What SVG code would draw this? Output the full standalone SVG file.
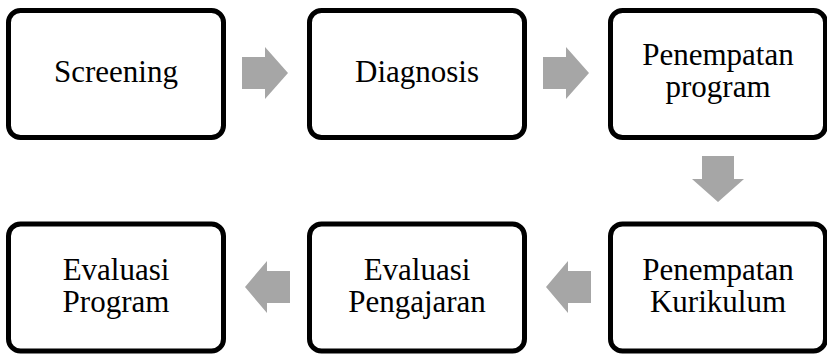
<svg xmlns="http://www.w3.org/2000/svg" width="827" height="356" viewBox="0 0 827 356">
<style>
.box{fill:#fff;stroke:#000;stroke-width:5}
.lbl{font-size:31px;fill:#000;text-anchor:middle}
.arr{fill:#a6a6a6}
</style>
<rect width="827" height="356" fill="#fff"/>
<g id="connectors">
<polygon class="arr" points="242,57 265,57 265,47 288,73 265,99 265,89 242,89"/>
<polygon class="arr" points="543,57 566,57 566,47 589,73 566,99 566,89 543,89"/>
<polygon class="arr" points="702,156 734,156 734,179 744,179 718,202 692,179 702,179"/>
<polygon class="arr" points="591,271 568,271 568,261 546,287 568,313 568,303 591,303"/>
<polygon class="arr" points="290,271 267,271 267,261 245,287 267,313 267,303 290,303"/>
</g>
<g font-family="Liberation Serif, DejaVu Serif, serif">
<g id="n1"><rect class="box" x="8.5" y="10.5" width="215" height="127" rx="12"/><text class="lbl" x="116" y="82">Screening</text></g>
<g id="n2"><rect class="box" x="309.5" y="10.5" width="215" height="127" rx="12"/><text class="lbl" x="417" y="82">Diagnosis</text></g>
<g id="n3"><rect class="box" x="610.5" y="10.5" width="215" height="127" rx="12"/><text class="lbl" x="718" y="65">Penempatan</text><text class="lbl" x="718" y="97">program</text></g>
<g id="n4"><rect class="box" x="610.5" y="224" width="215" height="127" rx="12"/><text class="lbl" x="718" y="280">Penempatan</text><text class="lbl" x="718" y="312">Kurikulum</text></g>
<g id="n5"><rect class="box" x="309.5" y="224" width="215" height="127" rx="12"/><text class="lbl" x="417" y="280">Evaluasi</text><text class="lbl" x="417" y="312">Pengajaran</text></g>
<g id="n6"><rect class="box" x="8.5" y="224" width="215" height="127" rx="12"/><text class="lbl" x="116" y="280">Evaluasi</text><text class="lbl" x="116" y="312">Program</text></g>
</g>
</svg>
